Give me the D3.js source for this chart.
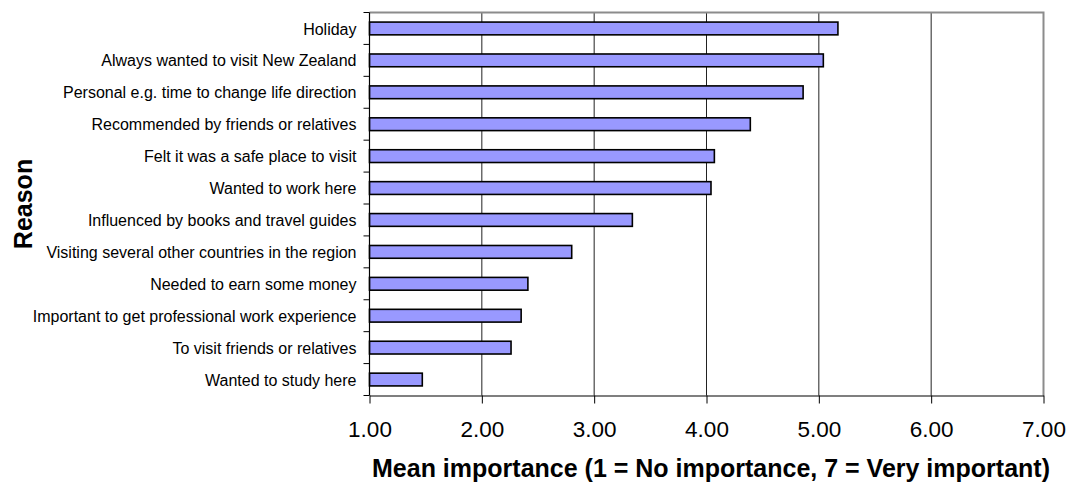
<!DOCTYPE html>
<html>
<head>
<meta charset="utf-8">
<script src="https://cdn.jsdelivr.net/npm/d3@7"></script>
<style>
  html, body { margin: 0; padding: 0; background: #fff; }
  svg { display: block; font-family: Arial, "Liberation Sans", sans-serif; }
</style>
</head>
<body>
<svg id="chart" width="1068" height="485"></svg>
<script>
// Reasons for visiting, top to bottom
const reasons = [
  "Holiday",
  "Always wanted to visit New Zealand",
  "Personal e.g. time to change life direction",
  "Recommended by friends or relatives",
  "Felt it was a safe place to visit",
  "Wanted to work here",
  "Influenced by books and travel guides",
  "Visiting several other countries in the region",
  "Needed to earn some money",
  "Important to get professional work experience",
  "To visit friends or relatives",
  "Wanted to study here"
];
// Mean importance score per reason
const meanImportance = [5.17, 5.04, 4.86, 4.39, 4.07, 4.04, 3.34, 2.80, 2.41, 2.35, 2.26, 1.47];
const xTicks = [1, 2, 3, 4, 5, 6, 7];
const xTitle = "Mean importance (1 = No importance, 7 = Very important)";
const yTitle = "Reason";

const svg = d3.select("#chart");
const plot = { left: 369.5, right: 1043.5, top: 12.5, bottom: 395.5 };

const x = d3.scaleLinear().domain([1, 7]).range([plot.left, plot.right]);
const y = d3.scaleBand().domain(reasons).range([plot.top, plot.bottom]).paddingInner(0.6).paddingOuter(0.3);
const yBand = d3.scaleBand().domain(reasons).range([plot.top, plot.bottom]);

// vertical gridlines
svg.append("g")
  .selectAll("line")
  .data(xTicks.filter(d => d > 1 && d < 7))
  .join("line")
  .attr("x1", d => x(d)).attr("x2", d => x(d))
  .attr("y1", plot.top).attr("y2", plot.bottom)
  .attr("stroke", "#222").attr("stroke-width", 1);

// plot frame (top and right)
svg.append("path")
  .attr("d", `M${plot.left},${plot.top}H${plot.right}V${plot.bottom}`)
  .attr("fill", "none").attr("stroke", "#8c8c8c").attr("stroke-width", 2);

// bars
svg.append("g")
  .selectAll("rect")
  .data(reasons)
  .join("rect")
  .attr("x", x(1))
  .attr("y", (d) => y(d))
  .attr("width", (d, i) => x(meanImportance[i]) - x(1))
  .attr("height", y.bandwidth())
  .attr("fill", "#9999ff")
  .attr("stroke", "#000")
  .attr("stroke-width", 1.6);

// x axis
const xAxis = svg.append("g")
  .attr("transform", `translate(0,${plot.bottom})`)
  .call(d3.axisBottom(x).tickValues(xTicks).tickFormat(d3.format(".2f")).tickSizeInner(8).tickSizeOuter(0));
xAxis.select(".domain").attr("stroke", "#000").attr("stroke-width", 1.2);
xAxis.selectAll(".tick line").attr("stroke", "#000");
xAxis.selectAll("text")
  .attr("font-family", "Arial, 'Liberation Sans', sans-serif")
  .attr("font-size", 22.5).attr("fill", "#000")
  .attr("y", 41.5).attr("dy", 0);

// y axis: ticks sit at category boundaries
const yAxisG = svg.append("g").attr("transform", `translate(${plot.left},0)`);
yAxisG.append("line")
  .attr("x1", 0).attr("x2", 0).attr("y1", plot.top).attr("y2", plot.bottom)
  .attr("stroke", "#000").attr("stroke-width", 1.2);
const bounds = reasons.map(r => yBand(r)).concat([plot.bottom]);
yAxisG.selectAll("line.tk")
  .data(bounds)
  .join("line").attr("class", "tk")
  .attr("x1", -6).attr("x2", 0)
  .attr("y1", d => d).attr("y2", d => d)
  .attr("stroke", "#000");
yAxisG.selectAll("text")
  .data(reasons)
  .join("text")
  .attr("x", -13)
  .attr("y", d => yBand(d) + yBand.bandwidth() / 2)
  .attr("dy", "0.38em")
  .attr("text-anchor", "end")
  .attr("font-size", 16)
  .attr("fill", "#000")
  .text(d => d);

// axis titles
svg.append("text")
  .attr("x", 711).attr("y", 477)
  .attr("text-anchor", "middle")
  .attr("font-size", 25).attr("font-weight", "bold")
  .text(xTitle);

svg.append("text")
  .attr("transform", `translate(32,${(plot.top + plot.bottom) / 2}) rotate(-90)`)
  .attr("text-anchor", "middle")
  .attr("font-size", 25).attr("font-weight", "bold")
  .text(yTitle);
</script>
</body>
</html>
